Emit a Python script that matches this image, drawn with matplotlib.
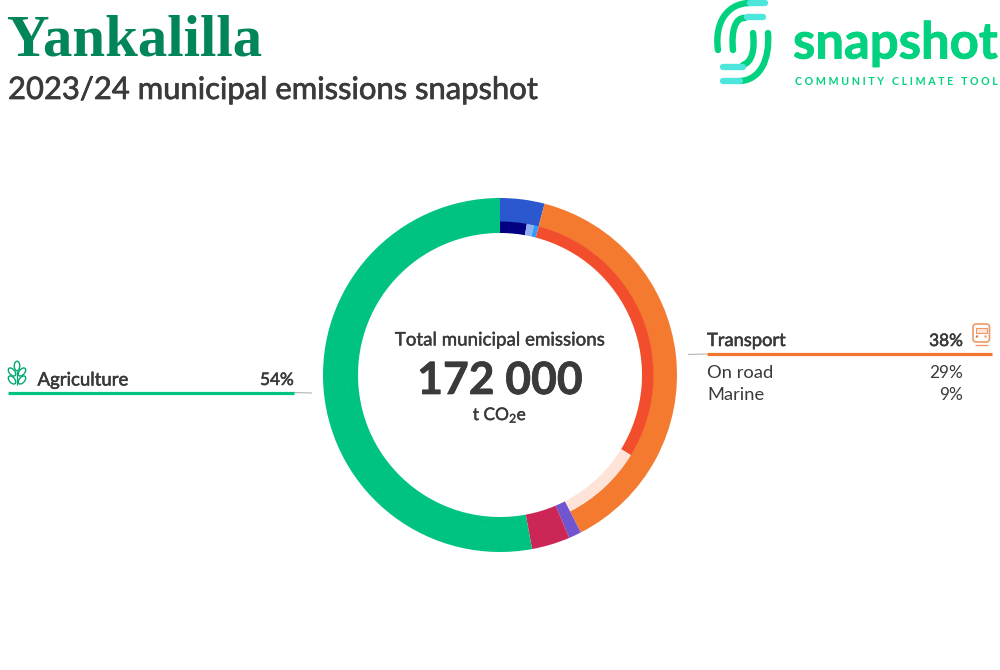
import matplotlib
matplotlib.use("Agg")
import matplotlib.pyplot as plt
import matplotlib.patheffects as pe
from matplotlib.path import Path
from matplotlib.patches import PathPatch, FancyBboxPatch, Ellipse, Rectangle, Circle

W, H = 1000, 670

# share of the ring in percent, clockwise from the top
outer_values = [4.05, 38.4, 1.15, 3.5, 52.9]
outer_colors = ["#2b58cf", "#f47a30", "#7155cf", "#cc2657", "#00c281"]
inner_values = [2.8, 0.75, 0.5, 29.7, 8.7, 1.15, 3.5, 52.9]
inner_colors = ["#000080", "#8fb0f0", "#2f9bff", "#f24e2e", "#fde3d8", "#7155cf", "#cc2657", "#00c281"]

transport_rows = ["On road", "Marine"]
transport_pcts = ["29%", "9%"]

DARK = "#3a3a3c"
LOGO = "#02d27f"
LOGO2 = "#4ce6dc"

plt.rcParams["font.family"] = ["Lato", "DejaVu Sans"]
plt.rcParams["mathtext.default"] = "regular"

fig = plt.figure(figsize=(10, 6.7), dpi=100)
ax = fig.add_axes([0, 0, 1, 1])


def Y(y):
    # picture pixels count from the top
    return H - y


def curve(pts, color, lw=4.6):
    codes = [Path.MOVETO] + [Path.CURVE4] * (len(pts) - 1)
    verts = [(x, Y(y)) for x, y in pts]
    ax.add_patch(PathPatch(Path(verts, codes), fc="none", ec=color, lw=lw, capstyle="round"))


def seg(x0, y0, x1, y1, color, lw, cap="butt"):
    ax.plot([x0, x1], [Y(y0), Y(y1)], color=color, lw=lw, solid_capstyle=cap)


def label(x, y, s, size=13.2, heavy=0.0, color=DARK, **kw):
    # Lato has no medium weight here, a thin stroke stands in for it
    t = ax.text(x, Y(y), s, fontsize=size, color=color, va="center", **kw)
    if heavy:
        t.set_path_effects([pe.withStroke(linewidth=heavy, foreground=color)])
    return t


ax.pie(outer_values, colors=outer_colors, center=(500, Y(375)), radius=177, startangle=90,
       counterclock=False, wedgeprops={"width": 24, "linewidth": 0})
ax.pie(inner_values, colors=inner_colors, center=(500, Y(375)), radius=153.5, startangle=90,
       counterclock=False, wedgeprops={"width": 11.5, "linewidth": 0})

ax.set_xlim(0, W)
ax.set_ylim(0, H)
ax.set_aspect("auto")
ax.axis("off")

# headings
label(7, 41.5, "Yankalilla", size=42.4, color="#03855c", family="Liberation Serif", weight="bold")
label(8, 90, "2023/24 municipal emissions snapshot", size=22.3, heavy=0.5)

# centre of the ring
label(500, 340, "Total municipal emissions", size=13.5, heavy=0.3, ha="center")
label(500, 381, "172 000", size=32, weight="bold", heavy=0.5, ha="center")
label(500, 415, "t CO$_2$e", size=12.5, heavy=0.3, ha="center")

# transport label
seg(688, 354.5, 707, 354, "#b5b5b5", 0.8)
seg(707, 354, 992, 354, "#f0762f", 2.3)
label(707, 341, "Transport", heavy=0.4)
label(963, 341, "38%", size=12.4, heavy=0.4, ha="right")
for row, pct, y in zip(transport_rows, transport_pcts, [373, 395]):
    label(707, y, row)
    label(963, y, pct, size=12.4, ha="right")

# agriculture label
seg(294, 392.5, 312, 393, "#b5b5b5", 0.8)
seg(8, 393, 294, 393, "#00c281", 2.3)
label(37.5, 380, "Agriculture", size=13.4, heavy=0.4)
label(294, 380, "54%", size=12.4, heavy=0.4, ha="right")

# train icon
ax.add_patch(FancyBboxPatch((973, Y(342)), 16.5, 18, boxstyle="round,pad=0,rounding_size=3",
                            fc="none", ec="#ee9a66", lw=1.2))
ax.add_patch(Rectangle((976, Y(333)), 10.5, 5.5, fc="#fde3d8", ec="#ee9a66", lw=0.8))
ax.add_patch(Circle((977, Y(336.5)), 1.2, fc="#d9743a", ec="none"))
ax.add_patch(Circle((985.5, Y(336.5)), 1.2, fc="#ee9a66", ec="none"))
seg(975, 345, 988, 345, "#ee9a66", 1.0)

# wheat icon
for cx, cy, ang in [(17, 366, 0), (12, 372, 40), (22, 372, -40), (12, 380, 40), (22, 380, -40)]:
    ax.add_patch(Ellipse((cx, Y(cy)), 5.5, 9.5, angle=ang, fc="none", ec="#00a873", lw=1.0))
seg(17, 371, 17, 385, "#00a873", 0.9)

# logo
seg(750, 3, 765, 3, LOGO2, 4.6, "round")
seg(747, 17, 763, 17, LOGO2, 4.6, "round")
seg(743, 67, 723, 67, LOGO2, 4.6, "round")
seg(740, 81, 723, 81, LOGO2, 4.6, "round")
curve([(718, 50), (714, 22), (728, 3), (750, 3)], LOGO)
curve([(733, 50), (731, 32), (735, 17), (745, 18)], LOGO)
curve([(753, 33), (755, 50), (752, 62), (743, 65)], LOGO)
curve([(768, 33), (770, 60), (760, 80), (740, 81)], LOGO)
label(793, 44, "snapshot", size=36.6, weight="bold", heavy=0.6, color=LOGO)
label(795, 81.5, "C O M M U N I T Y   C L I M A T E   T O O L", size=7.7, weight="bold", color=LOGO)

fig.savefig("out.png", dpi=100)
